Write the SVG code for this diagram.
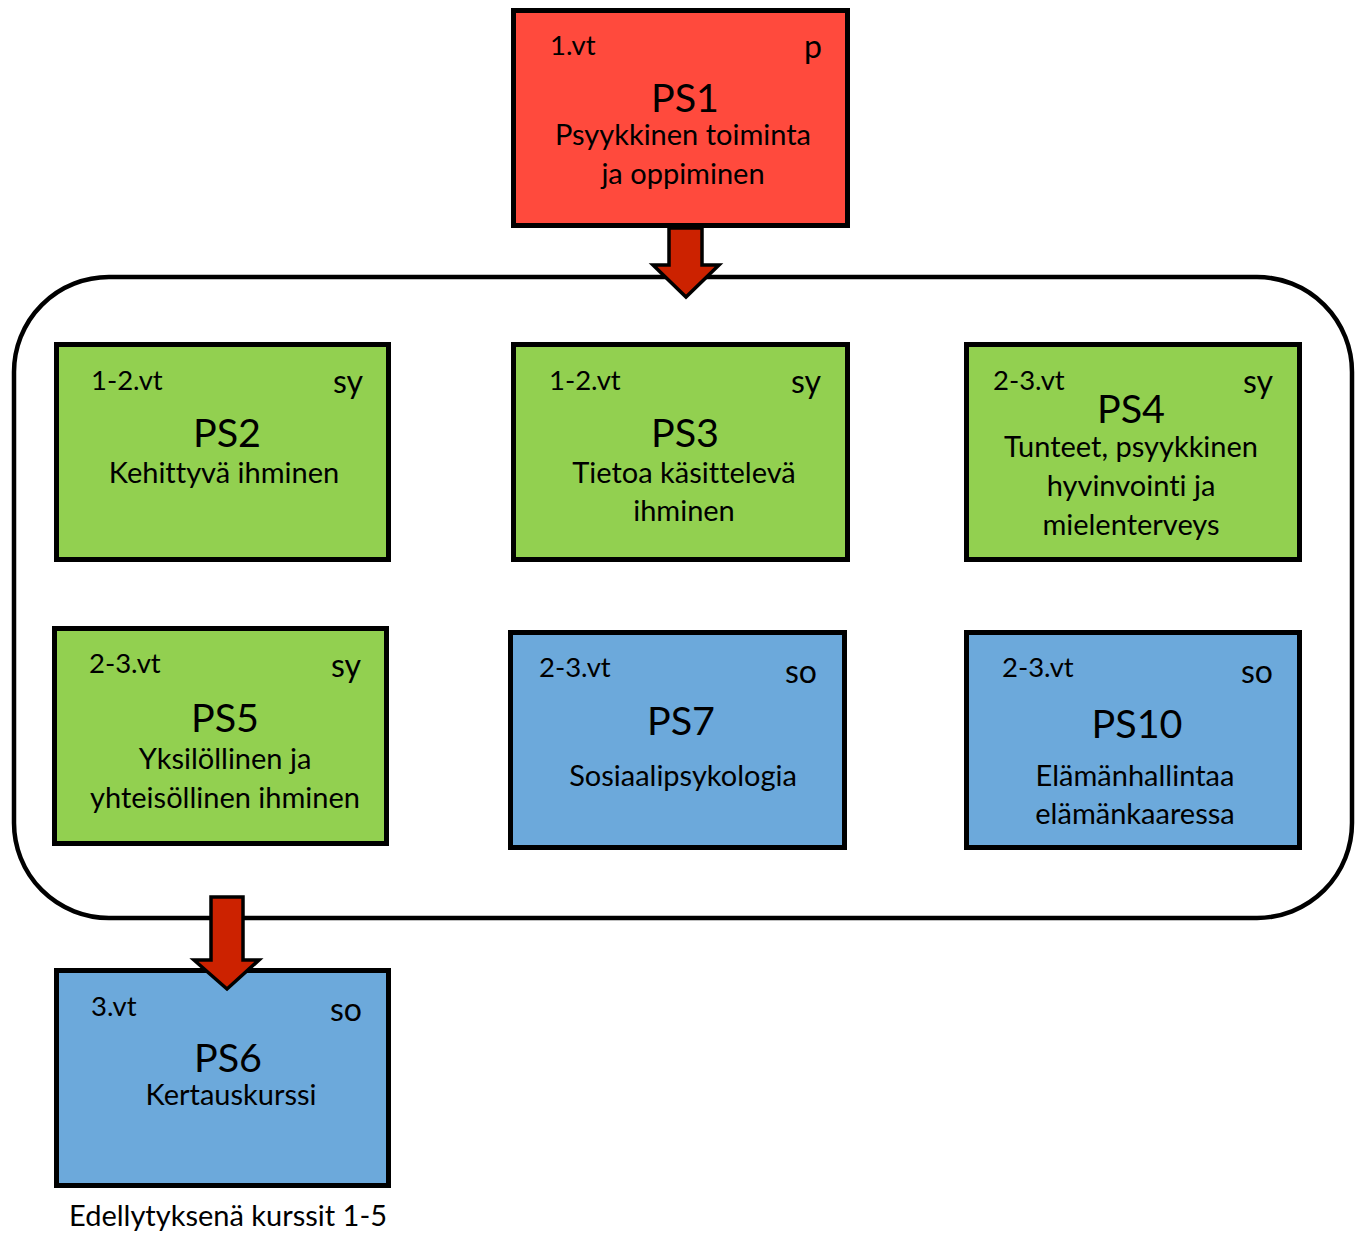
<svg xmlns="http://www.w3.org/2000/svg" width="1362" height="1233" viewBox="0 0 1362 1233">
<style>
text{font-family:Lato,"Liberation Sans",sans-serif;fill:#000;font-variant-ligatures:none}
.box{stroke:#000;stroke-width:5}
.red{fill:#FF4A3D}
.green{fill:#92D050}
.blue{fill:#6CA9DB}
.sm{font-size:27.5px}
.tag{font-size:32px}
.ttl{font-size:39.5px;text-anchor:middle}
.body{font-size:29px;text-anchor:middle}
.arrow{fill:#CC2200;stroke:#000;stroke-width:3.5;stroke-linejoin:miter}
</style>
<rect width="1362" height="1233" fill="#fff"/>
<g id="container">
<rect x="14" y="277" width="1338" height="641" rx="95" ry="95" fill="none" stroke="#000" stroke-width="4.5"/>
</g>
<g id="PS1">
<rect class="box red" x="513.5" y="10.5" width="334" height="215"/>
<text class="sm" x="550" y="55">1.vt</text>
<text class="tag" x="804" y="58">p</text>
<text class="ttl" x="685" y="112">PS1</text>
<text class="body" x="683" y="145">Psyykkinen toiminta</text>
<text class="body" x="683" y="184">ja oppiminen</text>
</g>
<g id="PS2">
<rect class="box green" x="56.5" y="344.5" width="332" height="215"/>
<text class="sm" x="91" y="390">1-2.vt</text>
<text class="tag" x="333" y="393">sy</text>
<text class="ttl" x="227" y="447">PS2</text>
<text class="body" x="224" y="483">Kehittyvä ihminen</text>
</g>
<g id="PS3">
<rect class="box green" x="513.5" y="344.5" width="334" height="215"/>
<text class="sm" x="549" y="390">1-2.vt</text>
<text class="tag" x="791" y="393">sy</text>
<text class="ttl" x="685" y="447">PS3</text>
<text class="body" x="684" y="483">Tietoa käsittelevä</text>
<text class="body" x="684" y="521">ihminen</text>
</g>
<g id="PS4">
<rect class="box green" x="966.5" y="344.5" width="333" height="215"/>
<text class="sm" x="993" y="390">2-3.vt</text>
<text class="tag" x="1243" y="393">sy</text>
<text class="ttl" x="1131" y="423">PS4</text>
<text class="body" x="1131" y="457">Tunteet, psyykkinen</text>
<text class="body" x="1131" y="496">hyvinvointi ja</text>
<text class="body" x="1131" y="535">mielenterveys</text>
</g>
<g id="PS5">
<rect class="box green" x="54.5" y="628.5" width="332" height="215"/>
<text class="sm" x="89" y="673">2-3.vt</text>
<text class="tag" x="331" y="677">sy</text>
<text class="ttl" x="225" y="732">PS5</text>
<text class="body" x="225" y="769">Yksilöllinen ja</text>
<text class="body" x="225" y="808">yhteisöllinen ihminen</text>
</g>
<g id="PS7">
<rect class="box blue" x="510.5" y="632.5" width="334" height="215"/>
<text class="sm" x="539" y="677">2-3.vt</text>
<text class="tag" x="785" y="683">so</text>
<text class="ttl" x="681" y="735">PS7</text>
<text class="body" x="683" y="786">Sosiaalipsykologia</text>
</g>
<g id="PS10">
<rect class="box blue" x="966.5" y="632.5" width="333" height="215"/>
<text class="sm" x="1002" y="677">2-3.vt</text>
<text class="tag" x="1241" y="683">so</text>
<text class="ttl" x="1137" y="738">PS10</text>
<text class="body" x="1135" y="786">Elämänhallintaa</text>
<text class="body" x="1135" y="824">elämänkaaressa</text>
</g>
<g id="PS6">
<rect class="box blue" x="56.5" y="970.5" width="332" height="215"/>
<text class="sm" x="91" y="1016">3.vt</text>
<text class="tag" x="330" y="1021">so</text>
<text class="ttl" x="228" y="1072">PS6</text>
<text class="body" x="231" y="1105">Kertauskurssi</text>
</g>
<g id="note">
<text class="body" x="228" y="1226">Edellytyksenä kurssit 1-5</text>
</g>
<g id="connectors">
<path class="arrow" d="M669,228 L702,228 L702,265 L719,265 L686,297 L653,265 L669,265 Z"/>
<path class="arrow" d="M211,897 L243,897 L243,960 L259,960 L227,989 L194,960 L211,960 Z"/>
</g>
</svg>
